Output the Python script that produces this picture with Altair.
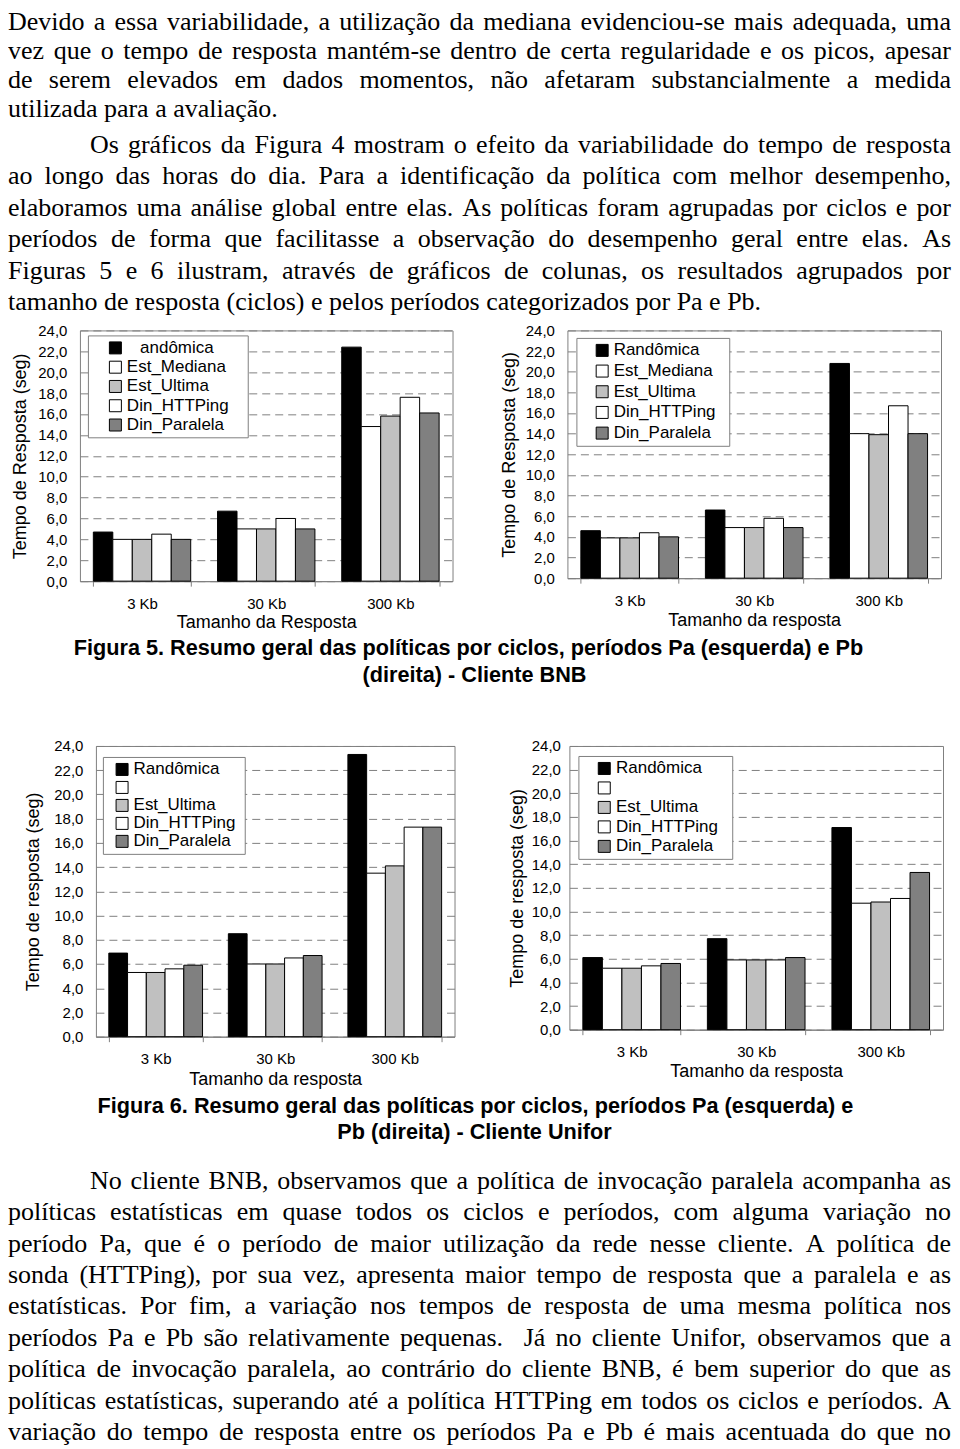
import unicodedata
import altair as alt
import pandas as pd

# ---------------- data ----------------
SIZES = ["3 Kb", "30 Kb", "300 Kb"]
POLICIES = ["Randômica", "Est_Mediana", "Est_Ultima", "Din_HTTPing", "Din_Paralela"]
FILLS = ["#000000", "#ffffff", "#c0c0c0", "#ffffff", "#808080"]
Y_TICKS = [0, 2, 4, 6, 8, 10, 12, 14, 16, 18, 20, 22, 24]

# Figura 5 (BNB) - período Pa
bnb_pa_randomica = [4.7, 6.7, 22.4]
bnb_pa_mediana = [4.0, 5.0, 14.8]
bnb_pa_ultima = [4.0, 5.0, 15.8]
bnb_pa_httping = [4.5, 6.0, 17.6]
bnb_pa_paralela = [4.0, 5.0, 16.1]
# Figura 5 (BNB) - período Pb
bnb_pb_randomica = [4.6, 6.6, 20.8]
bnb_pb_mediana = [3.9, 4.9, 14.0]
bnb_pb_ultima = [3.9, 4.9, 13.9]
bnb_pb_httping = [4.4, 5.8, 16.7]
bnb_pb_paralela = [4.0, 4.9, 14.0]
# Figura 6 (Unifor) - período Pa
uni_pa_randomica = [6.9, 8.5, 23.3]
uni_pa_mediana = [5.3, 6.0, 13.5]
uni_pa_ultima = [5.3, 6.0, 14.1]
uni_pa_httping = [5.6, 6.5, 17.3]
uni_pa_paralela = [5.9, 6.7, 17.3]
# Figura 6 (Unifor) - período Pb
uni_pb_randomica = [6.1, 7.7, 17.1]
uni_pb_mediana = [5.2, 5.9, 10.7]
uni_pb_ultima = [5.2, 5.9, 10.8]
uni_pb_httping = [5.4, 5.9, 11.1]
uni_pb_paralela = [5.6, 6.1, 13.3]

TOP_PARAGRAPH_1 = [
    "Devido a essa variabilidade, a utilização da mediana evidenciou-se mais adequada, uma",
    "vez que o tempo de resposta mantém-se dentro de certa regularidade e os picos, apesar",
    "de serem elevados em dados momentos, não afetaram substancialmente a medida",
    "utilizada para a avaliação.",
]
TOP_PARAGRAPH_2 = [
    "Os gráficos da Figura 4 mostram o efeito da variabilidade do tempo de resposta",
    "ao longo das horas do dia. Para a identificação da política com melhor desempenho,",
    "elaboramos uma análise global entre elas. As políticas foram agrupadas por ciclos e por",
    "períodos de forma que facilitasse a observação do desempenho geral entre elas. As",
    "Figuras 5 e 6 ilustram, através de gráficos de colunas, os resultados agrupados por",
    "tamanho de resposta (ciclos) e pelos períodos categorizados por Pa e Pb.",
]
BOTTOM_PARAGRAPH = [
    "No cliente BNB, observamos que a política de invocação paralela acompanha as",
    "políticas estatísticas em quase todos os ciclos e períodos, com alguma variação no",
    "período Pa, que é o período de maior utilização da rede nesse cliente. A política de",
    "sonda (HTTPing), por sua vez, apresenta maior tempo de resposta que a paralela e as",
    "estatísticas. Por fim, a variação nos tempos de resposta de uma mesma política nos",
    "períodos Pa e Pb são relativamente pequenas.  Já no cliente Unifor, observamos que a",
    "política de invocação paralela, ao contrário do cliente BNB, é bem superior do que as",
    "políticas estatísticas, superando até a política HTTPing em todos os ciclos e períodos. A",
    "variação do tempo de resposta entre os períodos Pa e Pb é mais acentuada do que no",
]
CAPTION_5 = ["Figura 5. Resumo geral das políticas por ciclos, períodos Pa (esquerda) e Pb",
             "(direita) - Cliente BNB"]
CAPTION_6 = ["Figura 6. Resumo geral das políticas por ciclos, períodos Pa (esquerda) e",
             "Pb (direita) - Cliente Unifor"]

# ---------------- styles ----------------
SANS = "Liberation Sans"
SERIF = "Liberation Serif"
GRAY = "#808080"
PAGE_W = 944
BODY_SIZE = 26
CAP_SIZE = 21.7

# Times / Liberation Serif advance widths (per 1000 em) for word placement
_TW = {" ": 250, ",": 250, ".": 250, "-": 333, "(": 333, ")": 333, ":": 278, ";": 278}
for _c, _w in zip("abcdefghijklmnopqrstuvwxyz",
                  [444, 500, 444, 500, 444, 333, 500, 500, 278, 278, 500, 278, 778,
                   500, 500, 500, 500, 333, 389, 278, 500, 500, 722, 500, 500, 444]):
    _TW[_c] = _w
for _c, _w in zip("ABCDEFGHIJKLMNOPQRSTUVWXYZ",
                  [722, 667, 667, 722, 611, 556, 722, 722, 333, 389, 722, 611, 889,
                   722, 722, 556, 722, 667, 556, 611, 722, 722, 944, 722, 722, 611]):
    _TW[_c] = _w
for _c in "0123456789":
    _TW[_c] = 500


def word_width(word, size):
    tot = 0
    for ch in word:
        base = unicodedata.normalize("NFD", ch)[0]
        tot += _TW.get(base, 500)
    return tot * size / 1000.0


def justify(lines, size, width):
    """lines: (text, justified, indent, baseline) -> word table"""
    rows = []
    for text, just, indent, y in lines:
        words = text.split(" ")
        ws = [word_width(w, size) for w in words]
        gaps = len(words) - 1
        if just and gaps > 0:
            gap = (width - indent - sum(ws)) / gaps
        else:
            gap = 0.25 * size
        x = indent
        for w, wd in zip(words, ws):
            if w:
                rows.append({"x": x, "y": y, "w": w})
            x += wd + gap
    return pd.DataFrame(rows)


def text_layer(df, font, size, weight="normal", align="left"):
    return alt.Chart(df).mark_text(
        align=align, baseline="alphabetic", font=font, fontSize=size,
        fontWeight=weight, color="black"
    ).encode(
        x=alt.X("x:Q", scale=None, axis=None),
        y=alt.Y("y:Q", scale=None, axis=None),
        text="w:N",
    )


def caption_df(lines, xs, ys):
    return pd.DataFrame({"x": xs, "y": ys, "w": lines})


def spacer(w, h):
    return alt.Chart(pd.DataFrame({"v": [0]})).mark_rect(opacity=0).encode(
        x=alt.value(0), x2=alt.value(1), y=alt.value(0), y2=alt.value(1)
    ).properties(width=w, height=h, view=alt.ViewBackground(strokeWidth=0))


def bar_chart(series, width, height, ytitle, xtitle, title_x, title_y, lab_pad,
              leg_x, leg_y, sym_off, lab_off, row_pad, label_expr):
    recs = []
    for pol, vals in zip(POLICIES, series):
        for s, v in zip(SIZES, vals):
            recs.append({"tamanho": s, "politica": pol, "tempo": v})
    df = pd.DataFrame(recs)
    return alt.Chart(df).mark_bar(stroke="black", strokeWidth=1).encode(
        x=alt.X("tamanho:N", sort=SIZES,
                scale=alt.Scale(domain=SIZES, paddingInner=0.216, paddingOuter=0.108),
                axis=alt.Axis(title=xtitle, labelAngle=0, labelFont=SANS, labelFontSize=15,
                              labelColor="black", labelPadding=10, tickSize=5, tickColor=GRAY,
                              tickBand="extent", domainColor=GRAY, grid=False,
                              titleFont=SANS, titleFontSize=18, titleFontWeight="normal",
                              titleColor="black", titleY=title_y, titleBaseline="alphabetic")),
        xOffset=alt.XOffset("politica:N", sort=POLICIES, scale=alt.Scale(domain=POLICIES)),
        y=alt.Y("tempo:Q", scale=alt.Scale(domain=[0, 24], nice=False),
                axis=alt.Axis(title=ytitle, values=Y_TICKS,
                              labelExpr="replace(format(datum.value, '.1f'), '.', ',')",
                              labelFont=SANS, labelFontSize=15, labelColor="black",
                              labelPadding=lab_pad, ticks=False, tickSize=0, domain=False,
                              grid=True, gridColor=GRAY, gridDash=[8, 5], gridWidth=1,
                              titleFont=SANS, titleFontSize=18, titleFontWeight="normal",
                              titleColor="black", titleAngle=270, titleX=title_x,
                              titleY=height / 2, titleAlign="center",
                              titleBaseline="alphabetic")),
        color=alt.Color("politica:N", sort=POLICIES,
                        scale=alt.Scale(domain=POLICIES, range=FILLS),
                        legend=alt.Legend(title=None, orient="none", legendX=leg_x, legendY=leg_y,
                                          direction="vertical", symbolType="square",
                                          symbolSize=144, symbolStrokeColor="black",
                                          symbolStrokeWidth=1, symbolOffset=sym_off,
                                          labelOffset=lab_off, labelFont=SANS, labelFontSize=17,
                                          labelColor="black", labelExpr=label_expr,
                                          padding=4, rowPadding=row_pad,
                                          strokeColor=GRAY, fillColor="white")),
    ).properties(width=width, height=height,
                 view=alt.ViewBackground(stroke=GRAY, strokeWidth=1))


NB = "\u00a0"   # non-breaking space (kept from trimming by a zero-width space guard)
ZW = "\u200b"


def pad(n):
    return NB * n + ZW


# ---------------- row A: top text ----------------
top_lines = []
for t, y in zip(TOP_PARAGRAPH_1, [21, 50, 79, 108]):
    top_lines.append((t, t != TOP_PARAGRAPH_1[-1], 0, y))
for i, (t, y) in enumerate(zip(TOP_PARAGRAPH_2, [144, 175.6, 207.2, 238.8, 270.4, 302])):
    top_lines.append((t, t != TOP_PARAGRAPH_2[-1], 82 if i == 0 else 0, y))
row_a = text_layer(justify(top_lines, BODY_SIZE, PAGE_W), SERIF, BODY_SIZE).properties(
    width=PAGE_W, height=314, view=alt.ViewBackground(strokeWidth=0))

# ---------------- row B: figure 5 ----------------
c1 = bar_chart([bnb_pa_randomica, bnb_pa_mediana, bnb_pa_ultima, bnb_pa_httping, bnb_pa_paralela],
               373, 251, "Tempo de Resposta (seg)", "Tamanho da Resposta", -54.5, 46.5, 13,
               8, 5, 15, 3, 1.3,
               "datum.label == 'Randômica' ? '" + ZW + "\u2002" + NB + "andômica' : datum.label + '"
               + pad(3) + "'")
c2 = bar_chart([bnb_pb_randomica, bnb_pb_mediana, bnb_pb_ultima, bnb_pb_httping, bnb_pb_paralela],
               374, 248, "Tempo de Resposta (seg)", "Tamanho da resposta", -52.5, 47.5, 13,
               9, 7.5, 13.3, 3, 2.7,
               "datum.label + '" + pad(2) + "'")
row_b = alt.hconcat(spacer(2, 10), c1, spacer(46, 10), c2, spacing=0).resolve_scale(
    color="independent", xOffset="independent").resolve_legend(color="independent")

# ---------------- row C: caption 5 ----------------
row_c = text_layer(caption_df(CAPTION_5, [461, 467], [23.2, 50]), SANS, CAP_SIZE,
                   weight="bold", align="center").properties(
    width=PAGE_W, height=105.5, view=alt.ViewBackground(strokeWidth=0))

# ---------------- row D: figure 6 ----------------
c3 = bar_chart([uni_pa_randomica, uni_pa_mediana, uni_pa_ultima, uni_pa_httping, uni_pa_paralela],
               359, 291, "Tempo de resposta (seg)", "Tamanho da resposta", -57.5, 47.5, 13,
               7, 11, 6.7, 3, 0,
               "datum.label == 'Est_Mediana' ? '' : datum.label + '" + pad(1) + "'")
c4 = bar_chart([uni_pb_randomica, uni_pb_mediana, uni_pb_ultima, uni_pb_httping, uni_pb_paralela],
               374, 284, "Tempo de resposta (seg)", "Tamanho da resposta", -46.5, 46.5, 9,
               9, 10, 13.4, 3.3, 1.5,
               "datum.label == 'Est_Mediana' ? '' : datum.label + '" + pad(2) + "'")
row_d = alt.hconcat(spacer(15.5, 10), c3, spacer(52, 10), c4, spacing=0).resolve_scale(
    color="independent", xOffset="independent").resolve_legend(color="independent")

# ---------------- row E: caption 6 + bottom text ----------------
bottom_lines = []
for i, t in enumerate(BOTTOM_PARAGRAPH):
    bottom_lines.append((t, True, 82 if i == 0 else 0, 100.5 + 31.4 * i))
cap6 = text_layer(caption_df(CAPTION_6, [468, 467], [24.2, 50.2]), SANS, CAP_SIZE,
                  weight="bold", align="center")
body6 = text_layer(justify(bottom_lines, BODY_SIZE, PAGE_W), SERIF, BODY_SIZE)
row_e = alt.layer(cap6, body6).properties(width=PAGE_W, height=356,
                                          view=alt.ViewBackground(strokeWidth=0))

chart = alt.vconcat(row_a, row_b, row_c, row_d, row_e, spacing=0).resolve_scale(
    color="independent", xOffset="independent").resolve_legend(color="independent").properties(
    padding=0).configure(font=SANS).configure_view(stroke="transparent")

chart.save("out.html", embed_options={"renderer": "svg", "actions": False})
